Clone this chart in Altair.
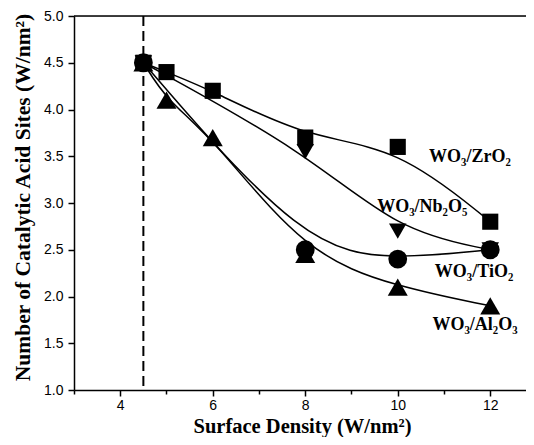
import altair as alt
import pandas as pd

# ---- data ----
density_zr = [4.5, 5, 6, 8, 10, 12]
sites_zr = [4.5, 4.4, 4.2, 3.7, 3.6, 2.8]
density_nb = [4.5, 8, 10, 12]
sites_nb = [4.5, 3.55, 2.7, 2.5]
density_ti = [4.5, 8, 10, 12]
sites_ti = [4.5, 2.5, 2.4, 2.5]
density_al = [4.5, 5, 6, 8, 10, 12]
sites_al = [4.5, 4.1, 3.7, 2.45, 2.1, 1.9]

series_names = ["WO₃/ZrO₂", "WO₃/Nb₂O₅", "WO₃/TiO₂", "WO₃/Al₂O₃"]
series_shapes = ["square", "triangle-down", "circle", "triangle-up"]
series_sizes = [260, 400, 320, 400]

label_x = [11.56, 10.53, 11.65, 11.67]
label_y = [3.44, 2.90, 2.21, 1.64]

boundary_x = [4.5]

x_ticks = list(range(3, 13))
y_ticks = [1 + 0.25 * i for i in range(17)]

W, H = 452, 374

rows = []
for name, xs, ys in zip(series_names,
                        [density_zr, density_nb, density_ti, density_al],
                        [sites_zr, sites_nb, sites_ti, sites_al]):
    for xv, yv in zip(xs, ys):
        rows.append({"series": name, "density": xv, "sites": yv})
df = pd.DataFrame(rows)
labels_df = pd.DataFrame({"text": series_names, "x": label_x, "y": label_y})
vline_df = pd.DataFrame({"x": boundary_x})

axis_common = dict(
    grid=False,
    domainColor="black", domainWidth=1.5,
    tickColor="black", tickWidth=1.5,
    labelFont="Liberation Sans", labelFontSize=14, labelColor="black",
    titleFont="Liberation Serif", titleFontWeight="bold",
    titleColor="black", labelFlush=False,
)

x_enc = alt.X(
    "density:Q",
    scale=alt.Scale(domain=[3, 12.773], nice=False, zero=False),
    axis=alt.Axis(
        title="Surface Density (W/nm²)",
        values=x_ticks,
        labelExpr="datum.value % 2 == 0 ? datum.label : ''",
        tickSize={"condition": {"test": "datum.value % 2 == 0", "value": 6}, "value": 4},
        labelPadding=2,
        titleFontSize=20.5,
        titleX=228, titleY=42.5, titleBaseline="alphabetic",
        **axis_common,
    ),
)
y_enc = alt.Y(
    "sites:Q",
    scale=alt.Scale(domain=[1, 5], nice=False, zero=False),
    axis=alt.Axis(
        title="Number of Catalytic Acid Sites (W/nm²)",
        values=y_ticks,
        format=".1f",
        labelExpr="(datum.value * 2) % 1 == 0 ? datum.label : ''",
        tickSize={"condition": {"test": "(datum.value * 2) % 1 == 0", "value": 6}, "value": 4},
        labelPadding=5,
        titleFontSize=21.5,
        titleX=-45, titleY=181, titleBaseline="alphabetic",
        **axis_common,
    ),
)

lines = alt.Chart(df).mark_line(
    interpolate="basis", color="black", strokeWidth=1.5
).encode(x=x_enc, y=y_enc, detail="series:N")

points = alt.Chart(df).mark_point(filled=True, color="black", opacity=1).encode(
    x="density:Q",
    y="sites:Q",
    shape=alt.Shape("series:N", scale=alt.Scale(domain=series_names, range=series_shapes), legend=None),
    size=alt.Size("series:N", scale=alt.Scale(domain=series_names, range=series_sizes), legend=None),
)

vline = alt.Chart(vline_df).mark_rule(
    color="black", strokeWidth=2, strokeDash=[10, 5]
).encode(x="x:Q", y=alt.value(0), y2=alt.value(H))

top_frame = alt.Chart(vline_df).mark_rule(color="black", strokeWidth=1.5).encode(
    x=alt.value(0), x2=alt.value(W), y=alt.value(0)
)

labels = alt.Chart(labels_df).mark_text(
    font="Liberation Serif", fontWeight="bold", fontSize=18,
    align="center", baseline="alphabetic", color="black",
).encode(x="x:Q", y="y:Q", text="text:N")

chart = alt.layer(lines, vline, points, labels, top_frame).properties(
    width=W, height=H,
    autosize=alt.AutoSizeParams(type="none"),
    padding={"left": 66, "top": 8, "right": 0, "bottom": 47},
).configure_view(stroke=None).configure(background="white")

chart.save("out.html", embed_options={"renderer": "svg", "actions": False})
